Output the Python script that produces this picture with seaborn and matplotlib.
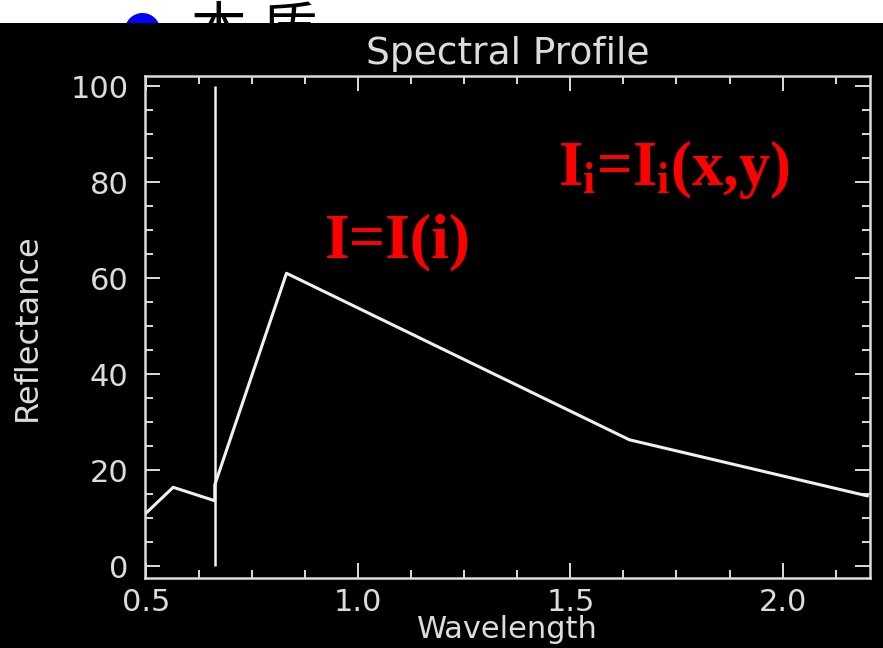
import matplotlib
matplotlib.use("Agg")
import matplotlib.pyplot as plt
import matplotlib.patches as mpatches
from matplotlib.ticker import MultipleLocator, FixedLocator
import seaborn as sns
import pandas as pd

# ---- data ----
wavelength = [0.495, 0.564, 0.662, 0.662, 0.831, 1.639, 2.200]
reflectance = [10.6, 16.4, 13.6, 16.9, 61.0, 26.3, 14.6]
marker_wavelength = 0.662
marker_range = [0, 100]
x_ticks = [0.5, 1.0, 1.5, 2.0]
x_tick_labels = ["0.5", "1.0", "1.5", "2.0"]
y_ticks = [0, 20, 40, 60, 80, 100]
y_tick_labels = ["0", "20", "40", "60", "80", "100"]
title = "Spectral Profile"
x_label = "Wavelength"
y_label = "Reflectance"
formula_1 = "I=I(i)"
formula_2 = r"$\mathbf{I_i}$=$\mathbf{I_i}$(x,y)"
header_chars = ["本", "质"]

sns.set_theme(style="dark")
plt.rcParams["font.family"] = ["DejaVu Sans"]
plt.rcParams["mathtext.fontset"] = "custom"
plt.rcParams["mathtext.bf"] = "Liberation Serif:bold"
plt.rcParams["mathtext.rm"] = "Liberation Serif:bold"
plt.rcParams["mathtext.it"] = "Liberation Serif:bold"

W, H = 883, 648
fig = plt.figure(figsize=(W / 100, H / 100), dpi=100)
fig.patch.set_facecolor("white")

fg = "#dcdcdc"

# header (partially hidden by black panel)
for ch, px in zip(header_chars, [191, 262]):
    fig.text(px / W, 1 - 3 / H, ch, family=["Noto Sans CJK SC", "DejaVu Sans"],
             fontsize=40, color="black", va="top", ha="left", zorder=-3)
fig.patches.append(mpatches.Ellipse((142.5 / W, 1 - 30.8 / H), 2 * 17.8 / W, 2 * 17.8 / H,
                                    transform=fig.transFigure, facecolor="#0000ff",
                                    edgecolor="none", zorder=-3))
fig.patches.append(mpatches.Rectangle((0, 0), 1, 1 - 23 / H, transform=fig.transFigure,
                                      facecolor="black", edgecolor="none", zorder=-2))

ax = fig.add_axes([145 / W, 1 - 578 / H, (870 - 145) / W, (578 - 76) / H])
ax.set_facecolor("black")
ax.set_zorder(0)

df = pd.DataFrame({"wavelength": wavelength, "reflectance": reflectance})
sns.lineplot(data=df, x="wavelength", y="reflectance", ax=ax, sort=False,
             estimator=None, color="#f0f0f0", linewidth=2.2)
ax.vlines(marker_wavelength, marker_range[0], marker_range[1], color="#f0f0f0", linewidth=1.8)

ax.set_xlim(0.4976, 2.206)
ax.set_ylim(-2.5, 102.1)

ax.xaxis.set_major_locator(FixedLocator(x_ticks))
ax.set_xticklabels(x_tick_labels)
ax.xaxis.set_minor_locator(MultipleLocator(0.125))
ax.yaxis.set_major_locator(FixedLocator(y_ticks))
ax.set_yticklabels(y_tick_labels)
ax.yaxis.set_minor_locator(MultipleLocator(5))

ax.tick_params(which="both", direction="in", top=True, right=True, bottom=True, left=True,
               color=fg, labelcolor=fg, width=1.4, labelsize=22)
ax.tick_params(which="major", length=11)
ax.tick_params(which="minor", length=6)
ax.tick_params(axis="x", pad=7)
ax.tick_params(axis="y", pad=12)
ax.grid(False)
for sp in ax.spines.values():
    sp.set_color(fg)
    sp.set_linewidth(1.8)
    sp.set_visible(True)

ax.set_title(title, color=fg, fontsize=27, pad=9)
ax.set_xlabel(x_label, color=fg, fontsize=22, labelpad=-1)
ax.set_ylabel(y_label, color=fg, fontsize=23, labelpad=20)

serif = ["Liberation Serif", "DejaVu Serif"]
fig.text(325 / W, 1 - 257 / H, formula_1, family=serif, fontweight="bold",
         fontsize=46, color="#ff0000", va="baseline", ha="left")
fig.text(558 / W, 1 - 185 / H, formula_2, family=serif, fontweight="bold",
         fontsize=45, color="#ff0000", va="baseline", ha="left")

fig.savefig("out.png", dpi=100, facecolor=fig.get_facecolor())
